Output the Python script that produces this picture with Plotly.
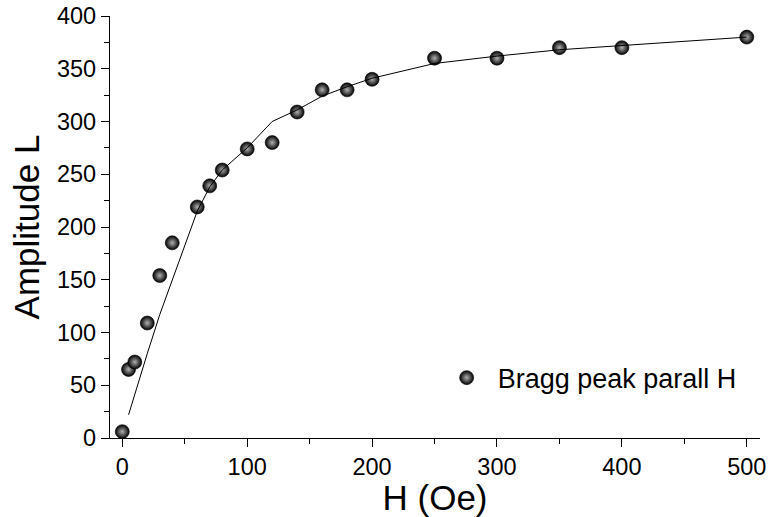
import plotly.graph_objects as go

# Measured data
h_oe = [0, 5, 10, 20, 30, 40, 60, 70, 80, 100, 120, 140, 160, 180, 200, 250, 300, 350, 400, 500]
amplitude = [6, 65, 72, 109, 154, 185, 219, 239, 254, 274, 280, 309, 330, 330, 340, 360, 360, 370, 370, 380]

# Fitted curve
fit_h = [5, 10, 20, 30, 40, 60, 70, 80, 100, 120, 140, 160, 180, 200, 250, 300, 350, 400, 500]
fit_amp = [22, 42, 80, 117, 150, 215, 238, 254, 275, 300, 311, 324, 333, 341, 355, 362, 368, 372, 380]

series_name = "Bragg peak parall H"
x_title = "H (Oe)"
y_title = "Amplitude L"

FONT = "Arial, Liberation Sans, sans-serif"

fig = go.Figure()
fig.add_trace(go.Scatter(
    x=h_oe, y=amplitude, mode="markers", name=series_name,
    marker=dict(size=14, color="#000000",
                gradient=dict(type="radial", color="#b0b0b0"),
                line=dict(width=0.6, color="#000000")),
))
fig.add_trace(go.Scatter(
    x=fit_h, y=fit_amp, mode="lines", showlegend=False,
    line=dict(color="black", width=1),
))

fig.update_layout(
    width=772, height=517,
    margin=dict(l=110, r=12, t=16, b=79, autoexpand=False),
    paper_bgcolor="white", plot_bgcolor="white",
    font=dict(family=FONT, color="black"),
    showlegend=True,
    legend=dict(x=0.501, y=0.142, xanchor="left", yanchor="middle",
                bgcolor="rgba(0,0,0,0)", itemwidth=52,
                font=dict(size=27, family=FONT, color="black")),
)
fig.update_xaxes(
    range=[-9.85, 510.6], showgrid=False, zeroline=False, automargin=False,
    showline=True, linecolor="black", linewidth=1.3,
    ticks="outside", ticklen=8, tickwidth=1.3, tickcolor="black",
    tick0=0, dtick=100,
    minor=dict(ticks="outside", ticklen=5, tickwidth=1.3, tickcolor="black", dtick=50, showgrid=False),
    tickfont=dict(size=23.5, family=FONT),
    title=dict(text=x_title, font=dict(size=35, family=FONT), standoff=2),
)
fig.update_yaxes(
    range=[0, 400], showgrid=False, zeroline=False, automargin=False,
    showline=True, linecolor="black", linewidth=1.3,
    ticks="outside", ticklen=8, tickwidth=1.3, tickcolor="black",
    tick0=0, dtick=50,
    minor=dict(ticks="outside", ticklen=5, tickwidth=1.3, tickcolor="black", dtick=25, showgrid=False),
    tickfont=dict(size=23.5, family=FONT),
    title=dict(text=y_title, font=dict(size=35, family=FONT), standoff=6),
)

# remove the default page margin so the figure sits at the window's corner
fig.write_html("out.html",
               config={"displayModeBar": False},
               post_script="document.body.style.margin='0';document.body.style.overflow='hidden';")
